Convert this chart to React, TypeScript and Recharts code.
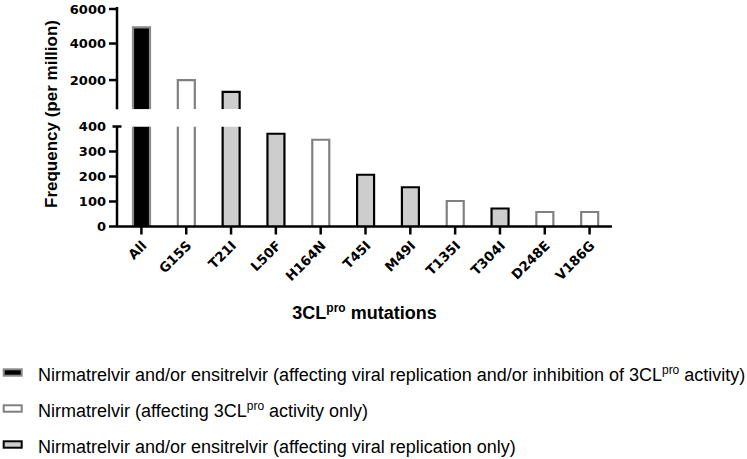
import React from 'react';
import { BarChart, Bar, XAxis, YAxis, Legend, Label } from 'recharts';

// ---------- data ----------
const categories = ['All', 'G15S', 'T21I', 'L50F', 'H164N', 'T45I', 'M49I', 'T135I', 'T304I', 'D248E', 'V186G'];
const frequencies = [4880, 2000, 1350, 371, 347, 207, 157, 102, 72, 58, 58];
const drugGroups = ['both', 'nirm', 'rep', 'rep', 'nirm', 'rep', 'rep', 'nirm', 'rep', 'nirm', 'nirm'];
const upperTicks = [400, 2000, 4000, 6000];
const lowerTicks = [0, 100, 200, 300, 400];
const breakValue = 400;
const upperMax = 6000;
const legendGroups = ['both', 'nirm', 'rep'];
const legendMain = [
  'Nirmatrelvir and/or ensitrelvir (affecting viral replication and/or inhibition of 3CL',
  'Nirmatrelvir (affecting 3CL',
  'Nirmatrelvir and/or ensitrelvir (affecting viral replication only)',
];
const legendSup = ['pro', 'pro', ''];
const legendTail = [' activity)', ' activity only)', ''];

// ---------- styles ----------
const groupStyle: Record<string, { fill: string; stroke: string }> = {
  both: { fill: '#000000', stroke: '#8a8a8a' },
  nirm: { fill: '#ffffff', stroke: '#808080' },
  rep: { fill: '#cdcdcd', stroke: '#000000' },
};

const W = 747;
const AXIS_X = 117;
const RIGHT = 135;
const TICK_SIZE = 8;
const TICK_MARGIN = 3;
const TICK_FONT = "'DejaVu Sans', sans-serif";
const TITLE_FONT = "'Liberation Sans', Arial, sans-serif";

const upperData = categories.map((c, i) => ({
  category: c,
  value: frequencies[i] > breakValue ? frequencies[i] : null,
  group: drugGroups[i],
  truncated: false,
}));
const lowerData = categories.map((c, i) => ({
  category: c,
  value: Math.min(frequencies[i], breakValue),
  group: drugGroups[i],
  truncated: frequencies[i] > breakValue,
}));

const BarShape = (props: any) => {
  const { x, y, width, height, payload } = props;
  if (width == null || height == null || !(height > 0)) return null;
  const st = groupStyle[payload.group];
  const d = payload.truncated
    ? `M${x},${y + height} L${x},${y} M${x + width},${y} L${x + width},${y + height}`
    : `M${x},${y + height} L${x},${y} L${x + width},${y} L${x + width},${y + height}`;
  return (
    <g>
      <rect x={x} y={y} width={width} height={height} fill={st.fill} />
      <path d={d} fill="none" stroke={st.stroke} strokeWidth={2.2} />
    </g>
  );
};

const makeYTick = (isUpper: boolean) => (props: any) => {
  const { x, y, payload } = props;
  const v = payload.value;
  const axisX = x + TICK_MARGIN + TICK_SIZE;
  const isBreak = v === breakValue;
  return (
    <g>
      {isBreak ? (
        <line x1={axisX - 4.5} x2={axisX + 4.5} y1={y} y2={y} stroke="#000" strokeWidth={2.5} />
      ) : (
        <line x1={axisX - TICK_SIZE} x2={axisX} y1={y} y2={y} stroke="#000" strokeWidth={2.5} />
      )}
      {!(isUpper && isBreak) && (
        <text x={x} y={y} dy={4.8} textAnchor="end" fontFamily={TICK_FONT} fontWeight="bold" fontSize={13} fill="#000">
          {v}
        </text>
      )}
    </g>
  );
};

const XTick = (props: any) => {
  const { x, y, payload } = props;
  const axisY = y - TICK_SIZE - TICK_MARGIN;
  return (
    <g>
      <line x1={x} x2={x} y1={axisY} y2={axisY + TICK_SIZE} stroke="#000" strokeWidth={2.5} />
      <g transform={`translate(${x + 6},${y + 9}) rotate(-45)`}>
        <text x={0} y={0} textAnchor="end" fontFamily={TICK_FONT} fontWeight="bold" fontSize={13.3} fill="#000">
          {payload.value}
        </text>
      </g>
    </g>
  );
};

const XTitle = (props: any) => {
  const vb = props.viewBox || {};
  const cx = vb.x + vb.width / 2;
  const by = vb.y + 92;
  return (
    <text x={cx} y={by} textAnchor="middle" fontFamily={TITLE_FONT} fontWeight="bold" fontSize={18} fill="#000">
      <tspan>3CL</tspan>
      <tspan dy={-7} fontSize={12}>pro</tspan>
      <tspan dy={7}> mutations</tspan>
    </text>
  );
};

const YTitle = () => {
  const cx = 51;
  const cy = 114;
  return (
    <text
      x={cx}
      y={cy}
      transform={`rotate(-90, ${cx}, ${cy})`}
      textAnchor="middle"
      dominantBaseline="central"
      fontFamily={TITLE_FONT}
      fontWeight="bold"
      fontSize={17}
      fill="#000"
    >
      Frequency (per million)
    </text>
  );
};

const LegendContent = () => (
  <svg width={W} height={99} style={{ display: 'block' }}>
    {legendGroups.map((g, i) => {
      const cy = 12.5 + i * 36;
      const st = groupStyle[g];
      return (
        <g key={g}>
          <rect x={3.7} y={cy - 3.2} width={18} height={6.4} fill={st.fill} stroke={st.stroke} strokeWidth={2} />
          <text x={38} y={cy + 8.4} fontFamily={TITLE_FONT} fontSize={18} fill="#000">
            <tspan>{legendMain[i]}</tspan>
            {legendSup[i] && (
              <tspan dy={-7} fontSize={12}>
                {legendSup[i]}
              </tspan>
            )}
            {legendTail[i] && <tspan dy={7}>{legendTail[i]}</tspan>}
          </text>
        </g>
      );
    })}
  </svg>
);

export default function App() {
  return (
    <div style={{ position: 'absolute', left: 0, top: 0, width: W, height: 459, background: '#fff', fontFamily: TITLE_FONT }}>
      {/* lower segment (0-400) with x axis and legend */}
      <div style={{ position: 'absolute', left: 0, top: 0 }}>
        <BarChart width={W} height={459} data={lowerData} margin={{ top: 126.5, right: RIGHT, bottom: 129, left: 0 }} barSize={17}>
          <XAxis
            dataKey="category"
            height={103.5}
            interval={0}
            padding={{ left: 2, right: 0 }}
            axisLine={{ stroke: '#000', strokeWidth: 2.5 }}
            tickLine={false}
            tickSize={TICK_SIZE}
            tickMargin={TICK_MARGIN}
            tick={XTick}
          >
            <Label content={XTitle} />
          </XAxis>
          <YAxis
            width={AXIS_X}
            domain={[0, breakValue]}
            ticks={lowerTicks}
            allowDataOverflow
            axisLine={{ stroke: '#000', strokeWidth: 2.5 }}
            tickLine={false}
            tickSize={TICK_SIZE}
            tickMargin={TICK_MARGIN}
            tick={makeYTick(false)}
          >
            <Label content={YTitle} />
          </YAxis>
          <Bar dataKey="value" isAnimationActive={false} shape={BarShape} />
          <Legend
            layout="vertical"
            verticalAlign="middle"
            align="center"
            content={LegendContent}
            wrapperStyle={{ position: 'absolute', left: 0, top: 360, width: W, height: 99 }}
          />
        </BarChart>
      </div>
      {/* upper segment (400-6000) */}
      <div style={{ position: 'absolute', left: 0, top: 0 }}>
        <BarChart width={W} height={112} data={upperData} margin={{ top: 7, right: RIGHT, bottom: 2.7, left: 0 }} barSize={17}>
          <XAxis dataKey="category" hide padding={{ left: 2, right: 0 }} />
          <YAxis
            width={AXIS_X}
            domain={[breakValue, upperMax]}
            ticks={upperTicks}
            allowDataOverflow
            axisLine={{ stroke: '#000', strokeWidth: 2.5 }}
            tickLine={false}
            tickSize={TICK_SIZE}
            tickMargin={TICK_MARGIN}
            tick={makeYTick(true)}
          />
          <Bar dataKey="value" isAnimationActive={false} shape={BarShape} />
        </BarChart>
      </div>
    </div>
  );
}
